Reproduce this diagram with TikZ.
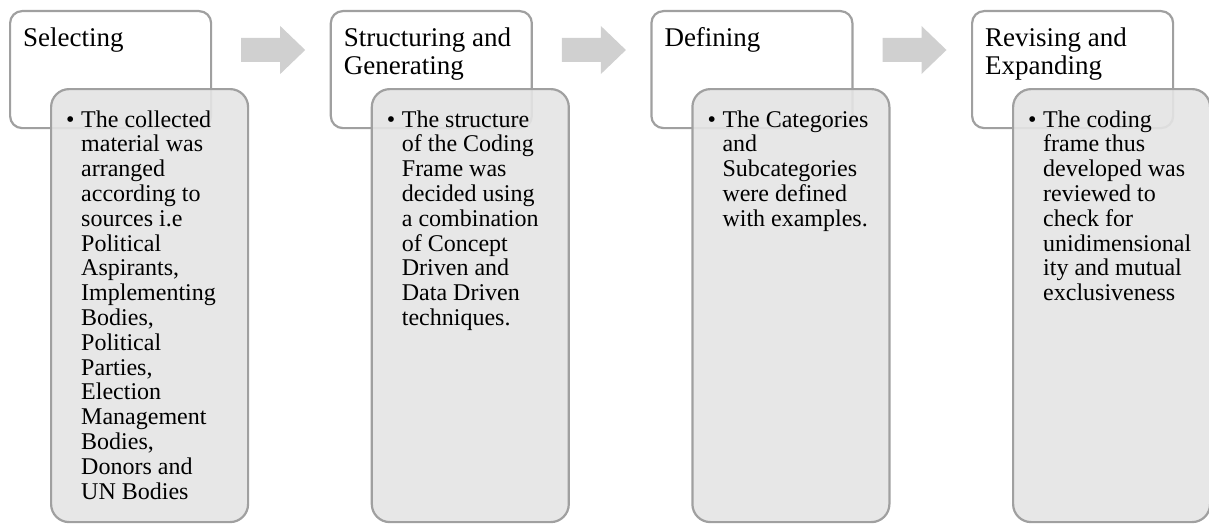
\documentclass[tikz,border=0pt]{standalone}
\usepackage{fontspec}
\setmainfont{Liberation Serif}
\usetikzlibrary{calc}
\definecolor{edge}{HTML}{A0A0A0}
\definecolor{panel}{HTML}{E4E4E4}
\definecolor{flow}{HTML}{D0D0D0}
\tikzset{
  headbox/.style={draw=edge, line width=2.2pt, rounded corners=12pt, fill=white,
    minimum width=201pt, minimum height=117pt, inner sep=0pt, anchor=north west},
  notebox/.style={draw=edge, line width=2.2pt, rounded corners=18pt, fill=panel,
    fill opacity=0.9, minimum width=197pt, minimum height=433pt, inner sep=0pt, anchor=north west},
  headtext/.style={anchor=base west, inner sep=0pt},
  bullettext/.style={anchor=base west, inner sep=0pt},
  bulletmark/.style={anchor=base west, inner sep=0pt, font=\fontsize{24}{24.8}\selectfont},
  flowarrow/.style={fill=flow, draw=none}
}
\newcommand{\headlines}[1]{\parbox[t]{185pt}{\fontsize{27}{27.6}\selectfont\raggedright #1}}
\newcommand{\notelines}[1]{\parbox[t]{170pt}{\fontsize{24}{24.8}\selectfont\raggedright #1}}
\begin{document}
\begin{tikzpicture}[x=1pt,y=-1pt]
\useasboundingbox (0,0) rectangle (1209,527);

% four steps: heading box with an overlapping note panel
\foreach \i/\xx in {1/9, 2/329.7, 3/650.3, 4/971}{
  \node[headbox] (h\i) at (\xx,10) {};
  \node[notebox] (n\i) at (\xx+41,88) {};
  \node[bulletmark] (m\i) at ($(n\i.north west)+(16,39)$) {•};
}

\node[headtext] (t1) at ($(h1.north west)+(14,37)$) {\headlines{Selecting}};
\node[headtext] (t2) at ($(h2.north west)+(14,37)$) {\headlines{Structuring and\\Generating}};
\node[headtext] (t3) at ($(h3.north west)+(14,37)$) {\headlines{Defining}};
\node[headtext] (t4) at ($(h4.north west)+(14,37)$) {\headlines{Revising and\\Expanding}};

\node[bullettext] (b1) at ($(n1.north west)+(31,39)$) {\notelines{The collected\\material was\\arranged\\according to\\sources i.e\\Political\\Aspirants,\\Implementing\\Bodies,\\Political\\Parties,\\Election\\Management\\Bodies,\\Donors and\\UN Bodies}};
\node[bullettext] (b2) at ($(n2.north west)+(31,39)$) {\notelines{The structure\\of the Coding\\Frame was\\decided using\\a combination\\of Concept\\Driven and\\Data Driven\\techniques.}};
\node[bullettext] (b3) at ($(n3.north west)+(31,39)$) {\notelines{The Categories\\and\\Subcategories\\were defined\\with examples.}};
\node[bullettext] (b4) at ($(n4.north west)+(31,39)$) {\notelines{The coding\\frame thus\\developed was\\reviewed to\\check for\\unidimensional\\ity and mutual\\exclusiveness}};

% block arrows between the heading boxes
\foreach \i in {1,2,3}{
  \fill[flowarrow] ($(h\i.north east)+(29,28)$) -- ++(39,0) -- ++(0,-12) -- ++(25,24)
    -- ++(-25,24) -- ++(0,-12) -- ++(-39,0) -- cycle;
}
\end{tikzpicture}
\end{document}
